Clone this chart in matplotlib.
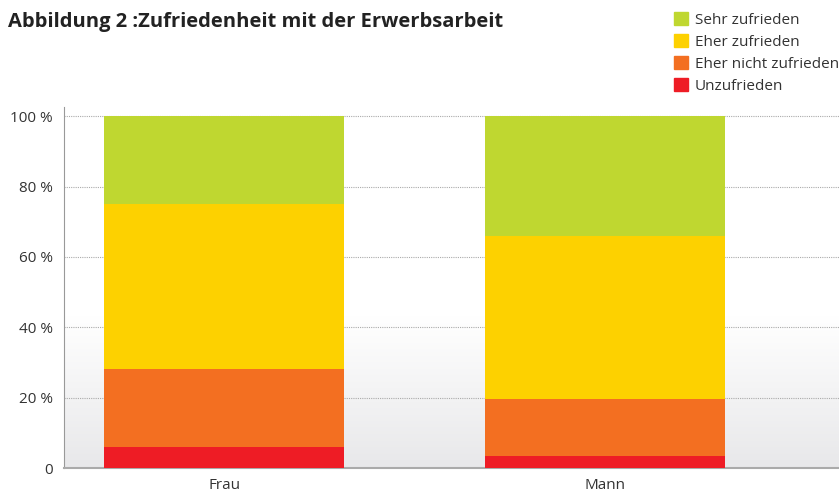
import numpy as np
import matplotlib; matplotlib.use("Agg")
import matplotlib.pyplot as plt
from matplotlib.patches import Patch
from matplotlib.colors import LinearSegmentedColormap

plt.rcParams["font.family"] = ["Open Sans", "DejaVu Sans"]

categories = ["Frau", "Mann"]
series = ["Unzufrieden", "Eher nicht zufrieden", "Eher zufrieden", "Sehr zufrieden"]
unzufrieden = [6, 3.5]
eher_nicht = [22, 16]
eher_zufrieden = [47, 46.5]
sehr_zufrieden = [25, 34]
values = [unzufrieden, eher_nicht, eher_zufrieden, sehr_zufrieden]
colors = ["#ee1c25", "#f36f21", "#fdd100", "#bfd730"]
yticks = [0, 20, 40, 60, 80, 100]
ytick_labels = ["0", "20 %", "40 %", "60 %", "80 %", "100 %"]

fig = plt.figure(figsize=(8.39, 4.93), dpi=100)
ax = fig.add_axes([64 / 839, 25 / 493, 775 / 839, 361 / 493])

# background: white on top, light grey gradient toward the bottom
cmap = LinearSegmentedColormap.from_list("bg", ["#e8e8ea", "#ffffff"])
grad = np.clip(np.linspace(0, 1, 256) / 0.42, 0, 1).reshape(-1, 1)
ax.imshow(grad, cmap=cmap, aspect="auto", extent=[-0.42, 1.614, 0, 102.6],
          origin="lower", zorder=0)

x = np.arange(len(categories))
bottom = np.zeros(len(categories))
for name, vals, col in zip(series, values, colors):
    ax.bar(x, vals, width=0.63, bottom=bottom, color=col, zorder=3, label=name)
    bottom += np.array(vals)

ax.set_xlim(-0.42, 1.614)
ax.set_ylim(0, 102.6)
ax.set_yticks(yticks)
ax.set_yticklabels(ytick_labels, fontsize=11, color="#333333")
ax.set_xticks(x)
ax.set_xticklabels(categories, fontsize=11, color="#333333")
ax.tick_params(axis="both", length=0, pad=8)
ax.tick_params(axis="x", pad=7)
ax.yaxis.grid(True, linestyle=(0, (1, 1)), color="#aaaaaa", linewidth=0.8, zorder=1)
ax.set_axisbelow(True)
for s in ["top", "right"]:
    ax.spines[s].set_visible(False)
ax.spines["left"].set_color("#999999")
ax.spines["bottom"].set_color("#aaaaaa")
ax.spines["bottom"].set_linewidth(1.5)

fig.text(8 / 839, 1 - 22 / 493, "Abbildung 2 :Zufriedenheit mit der Erwerbsarbeit",
         fontsize=14.5, fontweight="bold", color="#222222", va="center")

handles = [Patch(color=c, label=n) for n, c in zip(series[::-1], colors[::-1])]
fig.legend(handles=handles, loc="upper left", bbox_to_anchor=(674 / 839, 1 - 12 / 493),
           frameon=False, fontsize=11, handlelength=0.9, handleheight=0.9,
           handletextpad=0.45, labelspacing=0.42, borderaxespad=0, borderpad=0,
           labelcolor="#333333")

fig.savefig("out.png", dpi=100)
